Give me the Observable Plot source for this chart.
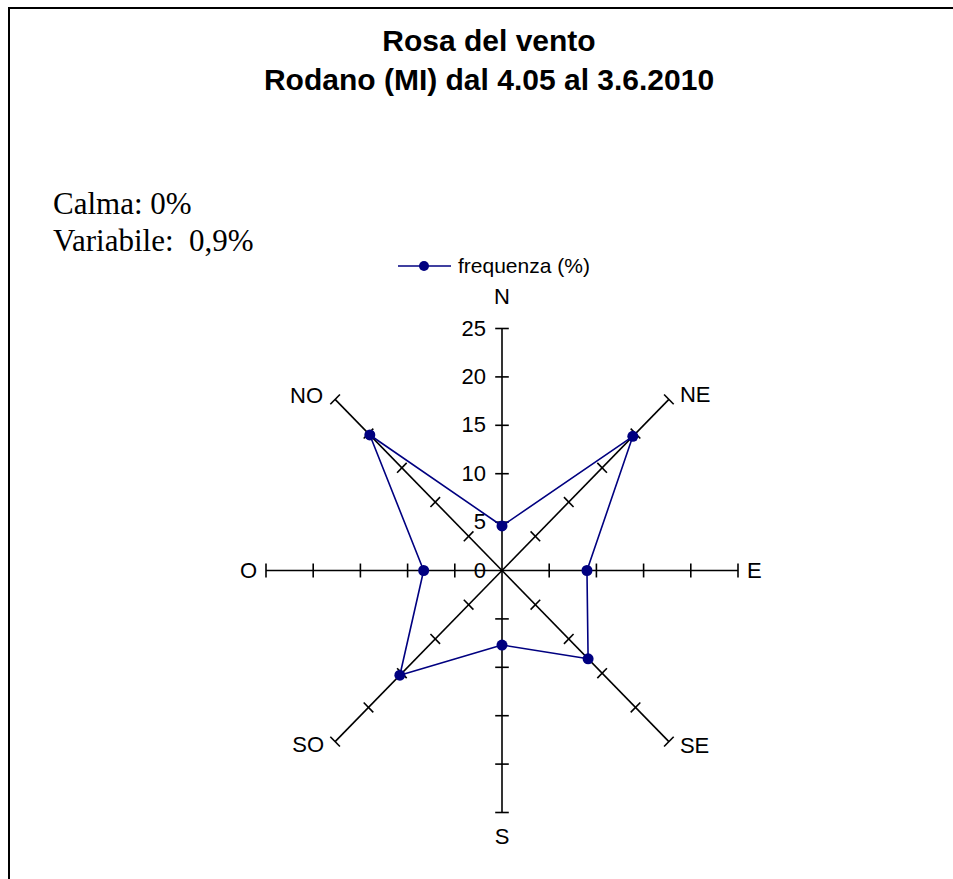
<!DOCTYPE html>
<html>
<head>
<meta charset="utf-8">
<script src="https://cdn.jsdelivr.net/npm/d3@7"></script>
<script src="https://cdn.jsdelivr.net/npm/@observablehq/plot@0.6"></script>
<style>
  html, body { margin: 0; padding: 0; background: #fff; }
  #wrap { position: relative; width: 953px; height: 879px; overflow: hidden; background: #fff; }
  #frame { position: absolute; left: 8px; top: 7px; width: 960px; height: 900px; border-top: 2px solid #000; border-left: 2px solid #000; }
  .title { position: absolute; font-family: "Liberation Sans", Arial, sans-serif; font-weight: bold; font-size: 30px; color: #000; white-space: nowrap; transform: translateX(-50%); }
  .note { position: absolute; left: 53px; font-family: "Liberation Serif", "Times New Roman", serif; font-size: 31px; color: #000; white-space: pre; }
  #legend { position: absolute; left: 396px; top: 254px; font-family: "Liberation Sans", Arial, sans-serif; font-size: 21px; display: flex; align-items: center; white-space: nowrap; }
  #chart { position: absolute; left: 0; top: 0; }
</style>
</head>
<body>
<div id="wrap">
  <div id="chart"></div>
  <div id="frame"></div>
  <div class="title" id="t1" style="left:489px; top:24px;"></div>
  <div class="title" id="t2" style="left:489px; top:63px;"></div>
  <div class="note" id="n1" style="top:186px;"></div>
  <div class="note" id="n2" style="top:223px;"></div>
  <div id="legend"></div>
</div>
<script>
// ---- data ----
const titleLines = ["Rosa del vento", "Rodano (MI) dal 4.05 al 3.6.2010"];
const notes = ["Calma: 0%", "Variabile:  0,9%"];
const seriesName = "frequenza (%)";
const directions = ["N", "NE", "E", "SE", "S", "SO", "O", "NO"];
const frequency = [4.6, 19.6, 9.0, 12.9, 7.7, 15.3, 8.3, 19.8];
const radialTicks = [0, 5, 10, 15, 20, 25];
const rMax = 25;

// ---- text ----
document.getElementById("t1").textContent = titleLines[0];
document.getElementById("t2").textContent = titleLines[1];
document.getElementById("n1").textContent = notes[0];
document.getElementById("n2").textContent = notes[1];
const lg = document.getElementById("legend");
lg.innerHTML = `<svg width="56" height="14" style="margin-right:6px"><line x1="2" y1="7" x2="55" y2="7" stroke="#000080" stroke-width="1.6"/><circle cx="28" cy="7" r="5" fill="#000080"/></svg><span></span>`;
lg.querySelector("span").textContent = seriesName;

// ---- geometry in data units ----
const angle = i => i * Math.PI / 4;
const px = (r, i) => r * Math.sin(angle(i));
const py = (r, i) => r * Math.cos(angle(i));

const axes = directions.map((d, i) => ({d, i}));
const pts = directions.map((d, i) => ({d, i, v: frequency[i], x: px(frequency[i], i), y: py(frequency[i], i)}));
const ring = [...pts, pts[0]];
const tickLen = 0.72;
const tickRows = [];
for (const a of axes) for (const t of radialTicks.filter(t => t > 0)) {
  const cx = px(t, a.i), cy = py(t, a.i);
  const ux = Math.cos(angle(a.i)), uy = -Math.sin(angle(a.i));
  tickRows.push({x1: cx - ux * tickLen, y1: cy - uy * tickLen, x2: cx + ux * tickLen, y2: cy + uy * tickLen});
}

const font = {fontFamily: "Liberation Sans, Arial, sans-serif", fontSize: 22, fill: "#000"};
const lab = (names, opts) => Plot.text(axes.filter(a => names.includes(a.d)), {
  x: a => px(rMax, a.i), y: a => py(rMax, a.i), text: "d", ...font, ...opts
});

const chart = Plot.plot({
  width: 953, height: 879, margin: 0,
  x: {domain: [-rMax, rMax], range: [501.5 - 236, 501.5 + 236], axis: null},
  y: {domain: [-rMax, rMax], range: [570 + 242, 570 - 242], axis: null},
  style: {background: "transparent"},
  marks: [
    Plot.link(axes, {x1: () => 0, y1: () => 0, x2: a => px(rMax, a.i), y2: a => py(rMax, a.i), stroke: "#000", strokeWidth: 1.6}),
    Plot.link(tickRows, {x1: "x1", y1: "y1", x2: "x2", y2: "y2", stroke: "#000", strokeWidth: 1.6}),
    Plot.text(radialTicks, {x: () => 0, y: t => t, text: t => String(t), textAnchor: "end", dx: -16, ...font}),
    Plot.line(ring, {x: "x", y: "y", stroke: "#000080", strokeWidth: 1.6}),
    Plot.dot(pts, {x: "x", y: "y", r: 5.5, fill: "#000080", stroke: "none"}),
    lab(["N"], {textAnchor: "middle", dy: -32}),
    lab(["S"], {textAnchor: "middle", dy: 24}),
    lab(["E"], {textAnchor: "start", dx: 9}),
    lab(["O"], {textAnchor: "end", dx: -9}),
    lab(["NE"], {textAnchor: "start", dx: 11, dy: -4}),
    lab(["SE"], {textAnchor: "start", dx: 11, dy: 4}),
    lab(["NO"], {textAnchor: "end", dx: -12, dy: -3}),
    lab(["SO"], {textAnchor: "end", dx: -11, dy: 3})
  ]
});
document.getElementById("chart").appendChild(chart);
</script>
</body>
</html>
